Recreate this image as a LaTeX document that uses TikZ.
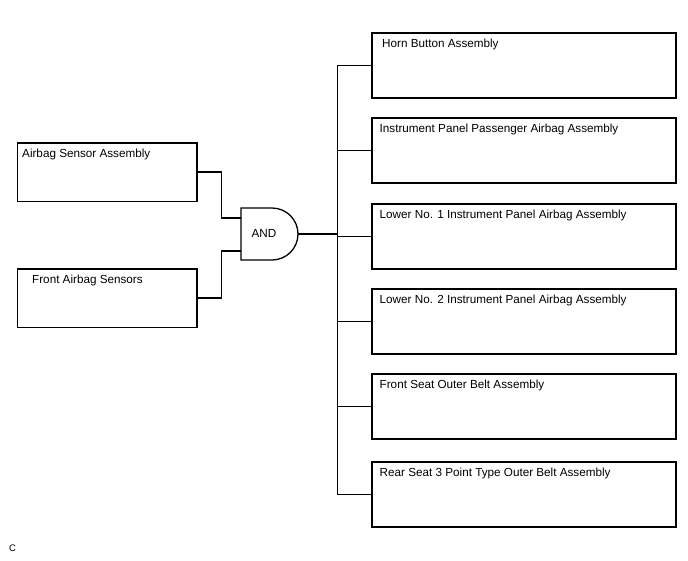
\documentclass[tikz,border=0pt]{standalone}
\usepackage{fontspec}
\setmainfont{Liberation Sans}
\usetikzlibrary{positioning}

\begin{document}
\begin{tikzpicture}[x=1pt, y=-1pt,
    box/.style={draw=black, line width=1.6pt, rectangle, inner sep=0pt, anchor=north west},
    inbox/.style={minimum width=179.5pt, minimum height=58.5pt},
    outbox/.style={minimum width=304pt, minimum height=65pt},
    txt/.style={anchor=north west, inner sep=0pt, font=\fontsize{11.7}{13}\selectfont, xshift=#1, yshift=-7pt},
    txt/.default=8.5pt,
    wire/.style={draw=black, line width=1.3pt}]
\useasboundingbox (0,0) rectangle (688,560);

% Inputs
\node[box, inbox, label={[txt=5.5pt]north west:Airbag Sensor Assembly}] (sensor) at (16.5,142) {};
\node[box, inbox, label={[txt=15.5pt]north west:Front Airbag Sensors}] (front) at (16.5,268) {};

% AND gate
\draw[wire] (241,208) -- (272,208) arc[start angle=-90, end angle=90, radius=26] -- (241,260) -- cycle;
\node[font=\fontsize{11.7}{13}\selectfont] (gate) at (264,233) {AND};
\coordinate (in1) at (241,218);
\coordinate (in2) at (241,251);
\coordinate (out) at (298,234);
\coordinate (bus) at (337.3,234);

% Outputs
\node[box, outbox, label={[txt=11pt]north west:Horn Button Assembly}] (horn) at (371,32) {};
\node[box, outbox, label={[txt]north west:Instrument Panel Passenger Airbag Assembly}] (passenger) at (371,117) {};
\node[box, outbox, label={[txt]north west:Lower No. 1 Instrument Panel Airbag Assembly}] (lower1) at (371,203) {};
\node[box, outbox, label={[txt]north west:Lower No. 2 Instrument Panel Airbag Assembly}] (lower2) at (371,288) {};
\node[box, outbox, label={[txt]north west:Front Seat Outer Belt Assembly}] (seat) at (371,373) {};
\node[box, outbox, label={[txt]north west:Rear Seat 3 Point Type Outer Belt Assembly}] (rear) at (371,461) {};

\node[anchor=west, inner sep=0pt, font=\fontsize{9.5}{10}\selectfont] (code) at (9,548) {C};

\draw[wire] (sensor.east) -- ++(24,0) |- (in1);
\draw[wire] (front.east) -- ++(24,0) |- (in2);
\draw[wire] (out) -- (bus);
\draw[wire] (bus |- horn.west) -- (bus |- rear.west);
\foreach \n in {horn, passenger, lower1, lower2, seat, rear}
  \draw[wire] (bus |- \n.west) -- (\n.west);
\end{tikzpicture}
\end{document}
